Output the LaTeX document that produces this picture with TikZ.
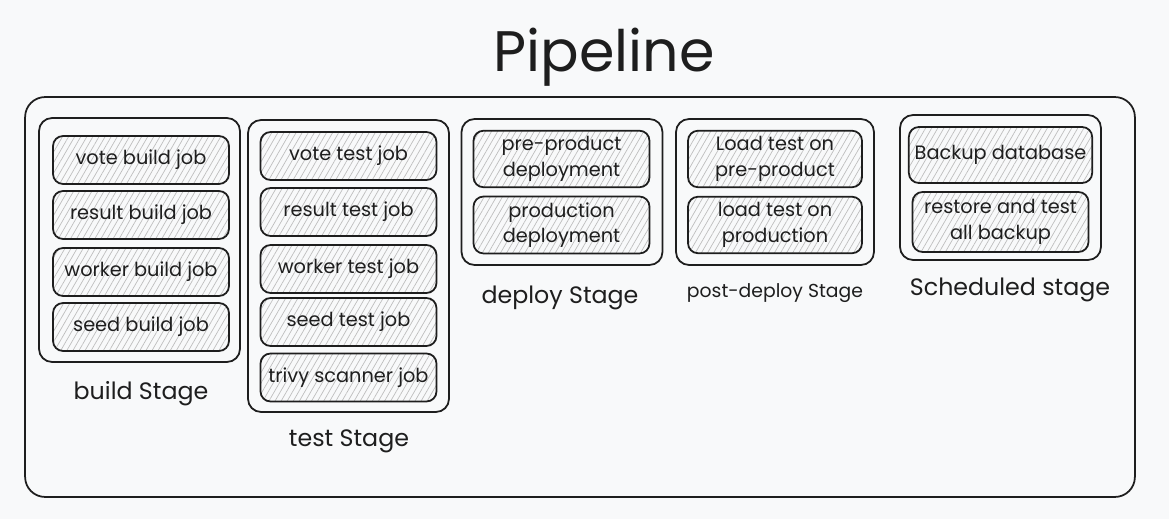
\documentclass[tikz,border=0pt]{standalone}
\usepackage{fontspec}
\setmainfont{Poppins}
\usetikzlibrary{patterns.meta}
\definecolor{pipebg}{RGB}{248,249,250}
\definecolor{pipeink}{RGB}{30,30,30}
\definecolor{hatchgray}{RGB}{190,190,190}

\begin{document}
\begin{tikzpicture}[x=0.02cm,y=-0.02cm,line width=1pt,
  pipebox/.style={draw=pipeink,rounded corners=0.4cm,minimum width=22.2cm,minimum height=8cm},
  stagebox/.style={draw=pipeink,rounded corners=0.26cm,minimum width=4.02cm},
  jobbox/.style={draw=pipeink,rounded corners=0.2cm,minimum width=3.52cm,minimum height=0.96cm,
    pattern={Lines[angle=60,distance=3pt,line width=0.4pt]},pattern color=hatchgray,
    text=pipeink,align=center,font=\fontsize{11}{14.5}\selectfont},
  stagelabel/.style={text=pipeink,font=\fontsize{13.5}{16}\selectfont}]
  \fill[pipebg] (0,0) rectangle (1169,519);
  \useasboundingbox (0,0) rectangle (1169,519);

  \node[text=pipeink,font=\fontsize{32.5}{38}\selectfont,anchor=base] (title) at (604,72) {Pipeline};
  \node[pipebox] (pipe) at (580,297) {};

  % build
  \node[stagebox,minimum height=4.88cm] (build) at (139.5,240) {};
  \node[jobbox] (vbuild) at (141,160) {vote build job};
  \node[jobbox] (rbuild) at (141,215) {result build job};
  \node[jobbox] (wbuild) at (141,272) {worker build job};
  \node[jobbox] (sbuild) at (141,327) {seed build job};
  \node[stagelabel] (buildlbl) at (141,394) {build Stage};

  % test
  \node[stagebox,minimum height=5.84cm] (test) at (348.5,266) {};
  \node[jobbox] (vtest) at (348.5,156) {vote test job};
  \node[jobbox] (rtest) at (348.5,212) {result test job};
  \node[jobbox] (wtest) at (348.5,269) {worker test job};
  \node[jobbox] (stest) at (348.5,322) {seed test job};
  \node[jobbox] (trivy) at (348.5,377.5) {trivy scanner job};
  \node[stagelabel] (testlbl) at (349,441) {test Stage};

  % deploy
  \node[stagebox,minimum height=2.92cm] (deploy) at (562,192) {};
  \node[jobbox,minimum height=1.12cm] (preprod) at (561.5,159) {pre-product\\deployment};
  \node[jobbox,minimum height=1.12cm] (prod) at (561.5,225) {production\\deployment};
  \node[stagelabel] (deploylbl) at (560,298) {deploy Stage};

  % post-deploy
  \node[stagebox,minimum width=3.96cm,minimum height=2.92cm] (post) at (775,192) {};
  \node[jobbox,minimum width=3.48cm,minimum height=1.12cm] (loadpre) at (775,159) {Load test on\\pre-product};
  \node[jobbox,minimum width=3.48cm,minimum height=1.12cm] (loadprod) at (775,225) {load test on\\production};
  \node[text=pipeink,font=\fontsize{10.7}{13}\selectfont] (postlbl) at (775,293) {post-deploy Stage};

  % scheduled
  \node[stagebox,minimum height=2.9cm] (sched) at (1000.5,187.5) {};
  \node[jobbox,minimum height=1.12cm] (backup) at (1000.5,155) {Backup database};
  \node[jobbox,minimum height=1.2cm] (restore) at (1000.5,222) {restore and test\\all backup};
  \node[stagelabel] (schedlbl) at (1010,290) {Scheduled stage};
\end{tikzpicture}
\end{document}
